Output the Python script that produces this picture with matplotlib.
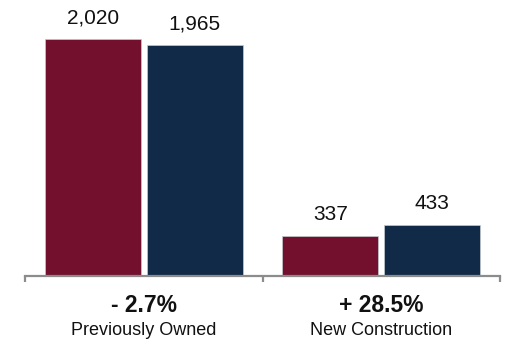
import matplotlib
matplotlib.use('Agg')
import matplotlib.pyplot as plt
import matplotlib.transforms as mtransforms
import numpy as np

plt.rcParams['font.family'] = ['Liberation Sans', 'DejaVu Sans']

# home sales by type, prior period vs current period
categories = ['Previously Owned', 'New Construction']
prior = [2020, 337]
current = [1965, 433]

red = '#72102e'
navy = '#112a47'
grey = '#8c8c8c'

fig = plt.figure(figsize=(5.05, 3.45), dpi=100)
ax = fig.add_axes([25/505, 69/345, 475/505, 276/345])

x = np.arange(len(categories))
w = 0.405
off = 0.215
b1 = ax.bar(x - off, prior, w, color=red, edgecolor='#c4cad2', linewidth=0.5)
b2 = ax.bar(x + off, current, w, color=navy, edgecolor='#c4cad2', linewidth=0.5)

for bars, vals in ((b1, prior), (b2, current)):
    for rect, v in zip(bars, vals):
        ax.annotate(f'{v:,}', (rect.get_x() + rect.get_width()/2, v),
                    xytext=(0, 11.5), textcoords='offset points',
                    ha='center', va='baseline', fontsize=15, color='#111111')

ax.set_xlim(-0.5, 1.5)
ax.set_ylim(0, 2020 * 276 / 237)

# change labels under each group
trans = mtransforms.blended_transform_factory(ax.transData, fig.transFigure)
for i, cat in enumerate(categories):
    pct = (current[i] - prior[i]) / prior[i] * 100
    sign = '-' if pct < 0 else '+'
    ax.text(x[i], 1 - 312/345, f'{sign} {abs(pct):.1f}%', transform=trans,
            ha='center', va='baseline', fontsize=16.5, fontweight='bold', color='#111111')
    ax.text(x[i], 1 - 335/345, cat, transform=trans,
            ha='center', va='baseline', fontsize=13, color='#111111')

for s in ('top', 'right', 'left'):
    ax.spines[s].set_visible(False)
ax.spines['bottom'].set_color(grey)
ax.spines['bottom'].set_linewidth(1.6)
ax.set_yticks([])
ax.set_xticks([-0.5, 0.5, 1.5])
ax.set_xticklabels([])
ax.tick_params(axis='x', direction='out', length=4, width=1.6, color=grey)

fig.savefig('out.png', dpi=100)
